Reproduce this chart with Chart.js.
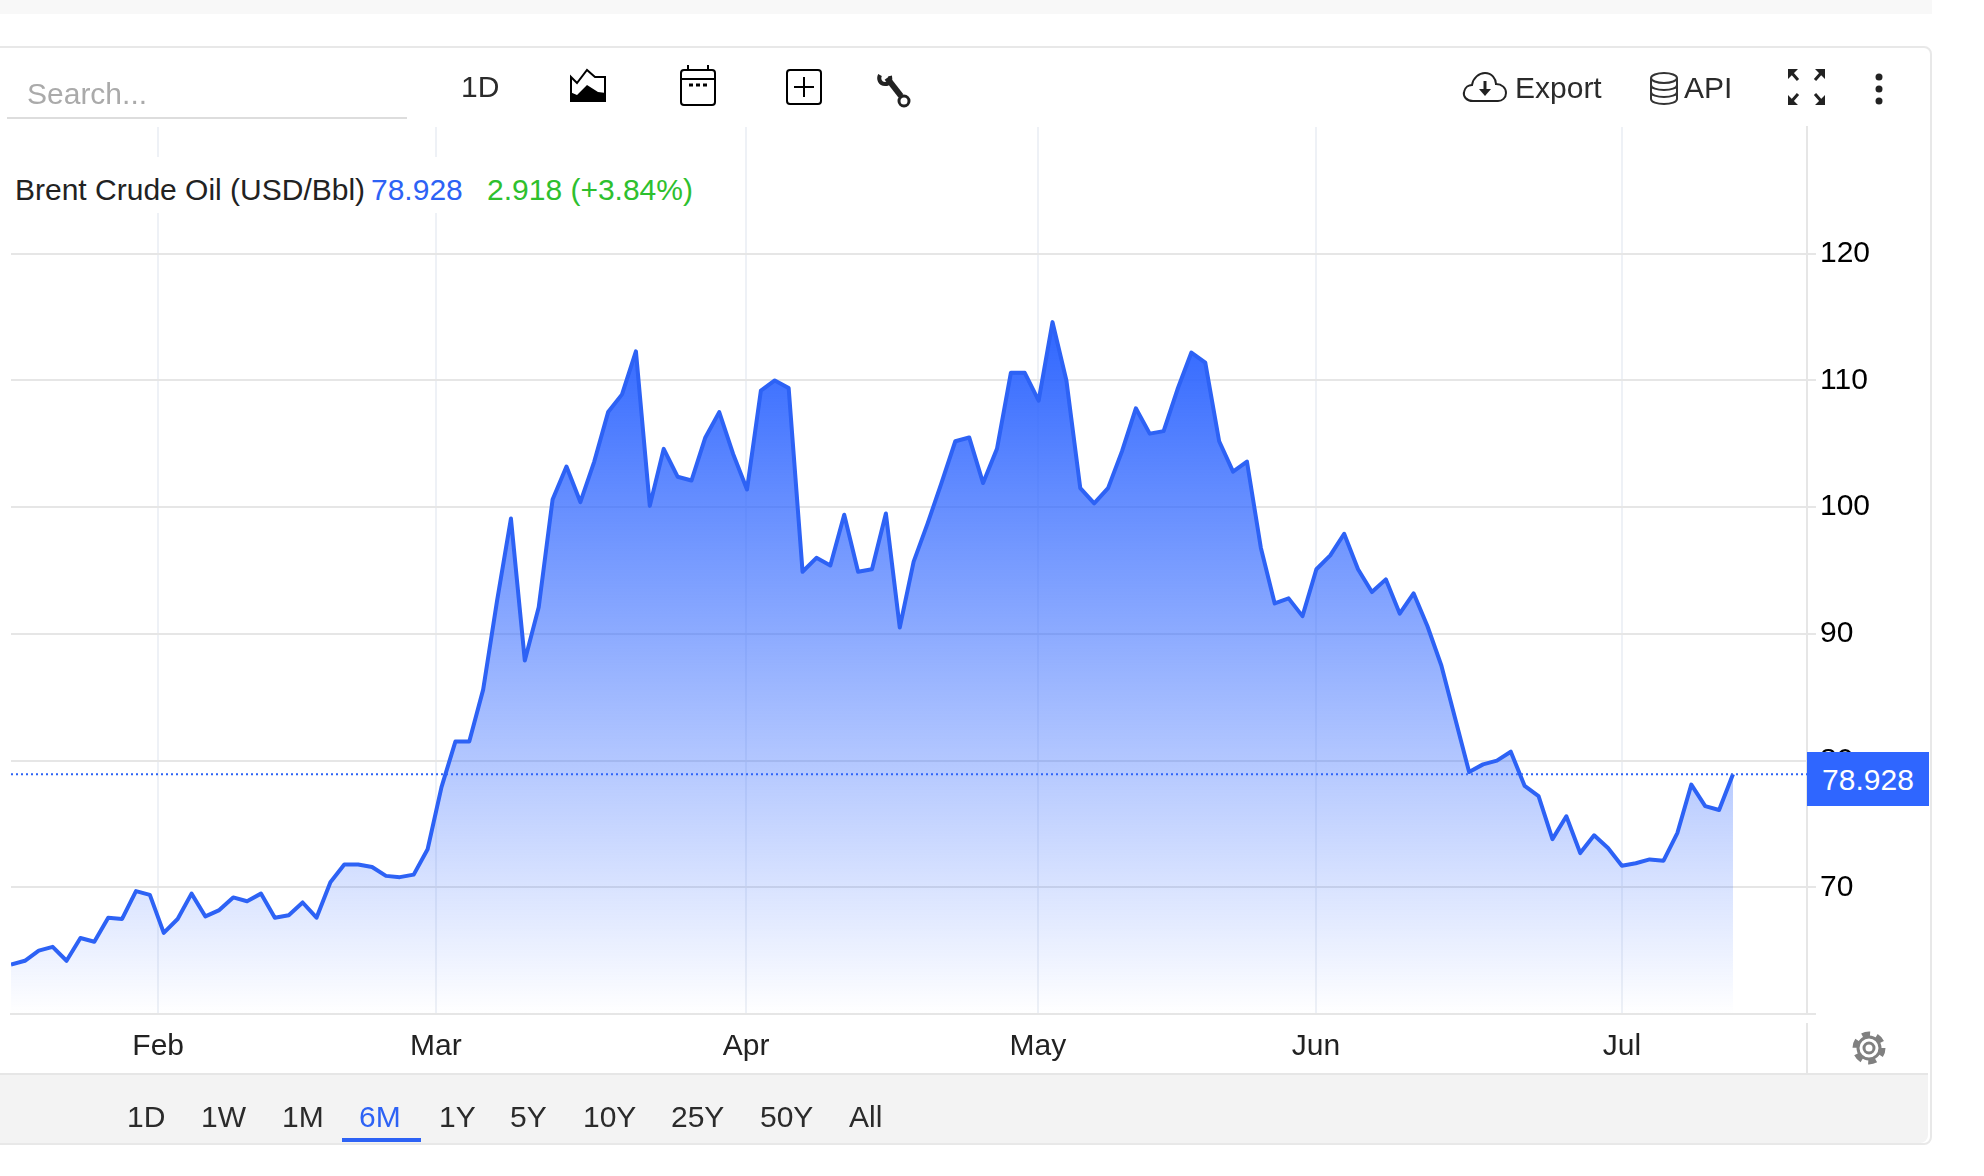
<!DOCTYPE html>
<html>
<head>
<meta charset="utf-8">
<title>Brent Crude Oil</title>
<script src="https://cdn.jsdelivr.net/npm/chart.js@4"></script>
<style>
  html, body { margin: 0; padding: 0; background: #fff; overflow: hidden; }
  body { width: 1984px; height: 1176px; position: relative; font-family: "Liberation Sans", Arial, sans-serif; color: #2b2b2b; }
  #liveChart { position: absolute; left: 0; top: 0; }
  .abs { position: absolute; }
  .txt { position: absolute; font-size: 30px; line-height: 34px; white-space: nowrap; }
  svg { position: absolute; overflow: visible; }
</style>
</head>
<body>

<div class="abs" style="left:0;top:0;width:1932px;height:14px;background:#f8f8f8"></div>
<div class="abs" style="left:-10px;top:46px;width:1938px;height:1095px;border:2px solid #e8e8e8;border-radius:8px"></div>
<div class="abs" style="left:0;top:1073px;width:1928px;height:68px;background:#f3f3f3;border-top:2px solid #e6e6e6;border-radius:0 0 8px 0"></div>

<canvas id="liveChart" width="1984" height="1176"></canvas>

<!-- toolbar -->
<div class="txt" style="left:27px;top:77px;color:#aaa">Search...</div>
<div class="abs" style="left:7px;top:117px;width:400px;height:2px;background:#ddd"></div>
<div class="txt" style="left:461px;top:70px">1D</div>

<svg style="left:570px;top:69px" width="36" height="33" viewBox="0 0 36 33">
  <path d="M1 8L7 14L17 1L25 8H35V32H1Z" fill="none" stroke="#000" stroke-width="2"/>
  <path d="M0 23L7 26L17 16L28 23L36 24V33H0Z" fill="#000"/>
</svg>
<svg style="left:680px;top:65px" width="36" height="41" viewBox="0 0 36 41">
  <rect x="1" y="5" width="34" height="35" rx="3" fill="none" stroke="#000" stroke-width="2"/>
  <path d="M1 14H35M8 0V5M28 0V5" stroke="#000" stroke-width="2"/>
  <path d="M9 20H13M16 20H20M23 20H27" stroke="#000" stroke-width="3"/>
</svg>
<svg style="left:786px;top:69px" width="36" height="36" viewBox="0 0 36 36">
  <rect x="1" y="1" width="34" height="34" rx="3" fill="none" stroke="#000" stroke-width="2"/>
  <path d="M18 8V28M8 18H28" stroke="#000" stroke-width="2"/>
</svg>
<svg style="left:870px;top:65px" width="50" height="50" viewBox="0 0 50 50">
  <path d="M17 13L31 31" stroke="#222" stroke-width="6"/>
  <path d="M10 10C8 14 10 19 15 19C20 19 21 15 20 11" fill="none" stroke="#222" stroke-width="4"/>
  <circle cx="34" cy="36" r="5" fill="#fff" stroke="#222" stroke-width="3"/>
</svg>

<svg style="left:1463px;top:72px" width="44" height="30" viewBox="0 0 44 30">
  <path d="M10 29C3 29 0 24 1 20C2 15 6 13 9 13C10 6 16 1 22 1C29 1 33 7 33 12C39 12 43 16 43 21C43 26 39 29 35 29Z" fill="none" stroke="#222" stroke-width="2"/>
  <path d="M22 9V19" stroke="#222" stroke-width="3"/>
  <path d="M16 17H28L22 24Z" fill="#222"/>
</svg>
<div class="txt" style="left:1515px;top:71px">Export</div>

<svg style="left:1650px;top:72px" width="28" height="33" viewBox="0 0 28 33">
  <ellipse cx="14" cy="6" rx="13" ry="5" fill="none" stroke="#333" stroke-width="2"/>
  <path d="M1 6V27C1 30 7 32 14 32C21 32 27 30 27 27V6M1 13C1 16 7 18 14 18C21 18 27 16 27 13M1 20C1 23 7 25 14 25C21 25 27 23 27 20" fill="none" stroke="#333" stroke-width="2"/>
</svg>
<div class="txt" style="left:1684px;top:71px">API</div>

<svg style="left:1780px;top:60px" width="60" height="50" viewBox="0 0 60 50">
  <path d="M8 9H18L8 19ZM45 9H35L45 19ZM8 45H18L8 35ZM45 45H35L45 35Z" fill="#222"/>
  <path d="M11 12L18 20M42 12L35 20M11 42L18 34M42 42L35 34" stroke="#222" stroke-width="3"/>
</svg>
<svg style="left:1875px;top:73px" width="8" height="32" viewBox="0 0 8 32">
  <circle cx="4" cy="4" r="3.5" fill="#222"/>
  <circle cx="4" cy="16" r="3.5" fill="#222"/>
  <circle cx="4" cy="28" r="3.5" fill="#222"/>
</svg>

<!-- title row, white patch hides the gridlines behind it -->
<div class="abs" style="left:10px;top:157px;width:690px;height:56px;background:#fff"></div>
<div class="txt" style="left:15px;top:173px;color:#222">Brent Crude Oil (USD/Bbl)</div>
<div class="txt" style="left:371px;top:173px;color:#2d62f5">78.928</div>
<div class="txt" style="left:487px;top:173px;color:#2ec02e">2.918 (+3.84%)</div>

<!-- last price tag -->
<div class="abs" style="left:1807px;top:752px;width:122px;height:54px;background:#2f66ff;color:#fff;font-size:30px;line-height:56px;text-align:center">78.928</div>

<!-- axis line below the plot, gear -->
<div class="abs" style="left:1806px;top:1023px;width:2px;height:50px;background:#e6e6e6"></div>
<svg style="left:1853px;top:1032px" width="32" height="32" viewBox="0 0 32 32">
  <circle cx="16" cy="16" r="11" fill="none" stroke="#808080" stroke-width="3"/>
  <circle cx="16" cy="16" r="5" fill="none" stroke="#808080" stroke-width="3"/>
  <circle cx="16" cy="16" r="14" fill="none" stroke="#808080" stroke-width="5" stroke-dasharray="8 6.66"/>
</svg>

<!-- range tabs -->
<div class="txt" style="left:127px;top:1100px">1D</div>
<div class="txt" style="left:201px;top:1100px">1W</div>
<div class="txt" style="left:282px;top:1100px">1M</div>
<div class="txt" style="left:359px;top:1100px;color:#2d62f5">6M</div>
<div class="txt" style="left:439px;top:1100px">1Y</div>
<div class="txt" style="left:510px;top:1100px">5Y</div>
<div class="txt" style="left:583px;top:1100px">10Y</div>
<div class="txt" style="left:671px;top:1100px">25Y</div>
<div class="txt" style="left:760px;top:1100px">50Y</div>
<div class="txt" style="left:849px;top:1100px">All</div>
<div class="abs" style="left:342px;top:1138px;width:79px;height:4px;background:#2d62f5"></div>

<script>
// Brent daily closes
const prices = [
  63.9, 64.2, 65.0, 65.3, 64.2, 66.0, 65.7, 67.6, 67.5, 69.7,
  69.4, 66.4, 67.5, 69.5, 67.7, 68.2, 69.2, 68.9, 69.5, 67.6,
  67.8, 68.8, 67.6, 70.4, 71.8, 71.8, 71.6, 70.9, 70.8, 71.0,
  73.0, 77.9, 81.5, 81.5, 85.6, 92.6, 99.1, 87.9, 92.1, 100.6,
  103.2, 100.4, 103.6, 107.5, 108.9, 112.3, 100.1, 104.6, 102.4, 102.1,
  105.5, 107.5, 104.2, 101.4, 109.2, 110.0, 109.4, 94.9, 96.0, 95.4,
  99.4, 94.9, 95.1, 99.5, 90.5, 95.7, 98.7, 101.9, 105.2, 105.5,
  101.9, 104.6, 110.6, 110.6, 108.4, 114.6, 110.0, 101.5, 100.3, 101.5,
  104.4, 107.8, 105.8, 106.0, 109.3, 112.2, 111.4, 105.2, 102.8, 103.6,
  96.8, 92.4, 92.8, 91.4, 95.1, 96.2, 97.9, 95.1, 93.3, 94.3,
  91.6, 93.2, 90.6, 87.5, 83.3, 79.1, 79.7, 80.0, 80.7, 78.0,
  77.2, 73.8, 75.6, 72.7, 74.1, 73.1, 71.7, 71.9, 72.2, 72.1,
  74.3, 78.1, 76.4, 76.1, 78.928
]
const lastPrice = 78.928

// month ticks sit between trading days (weekends collapsed)
const monthLabels = [`Feb`, `Mar`, `Apr`, `May`, `Jun`, `Jul`]
const monthTicks = [10.6, 30.6, 52.93, 73.95, 93.97, 116]
const priceTicks = [60, 70, 80, 90, 100, 110, 120]

const lastSlot = 129.33
const blue = `#2d62f5`

// area fill fades from the highest point down to the baseline
const areaFill = ctx => {
  const { chart } = ctx
  if (!chart.chartArea) return `transparent`
  const top = chart.scales.y.getPixelForValue(Math.max(...prices))
  const g = chart.ctx.createLinearGradient(0, top, 0, chart.chartArea.bottom)
  g.addColorStop(0, `rgba(47,102,255,1)`)
  g.addColorStop(1, `rgba(47,102,255,0)`)
  return g
}

new Chart(document.querySelector(`#liveChart`).getContext(`2d`), {
  type: `line`,
  data: {
    datasets: [{
      data: prices.map((y, x) => ({ x, y })),
      borderColor: blue,
      borderWidth: 4,
      backgroundColor: areaFill,
      fill: `start`,
      tension: 0,
      pointRadius: 0,
      borderJoinStyle: `round`
    }, {
      data: [{ x: 0, y: lastPrice }, { x: lastSlot, y: lastPrice }],
      borderColor: blue,
      borderWidth: 2,
      borderDash: [2, 3],
      pointRadius: 0,
      fill: false
    }]
  },
  options: {
    responsive: false,
    animation: false,
    devicePixelRatio: 1,
    layout: { padding: { left: 11, top: 127, right: 0, bottom: 0 } },
    plugins: { legend: { display: false }, tooltip: { enabled: false } },
    scales: {
      x: {
        type: `linear`,
        min: 0,
        max: lastSlot,
        afterBuildTicks: s => { s.ticks = monthTicks.map(value => ({ value })) },
        afterFit: s => { s.height = 162 },
        grid: { color: `#eef1f6`, lineWidth: 2, tickLength: 0, drawTicks: false },
        border: { color: `#e6e6e6`, width: 2 },
        ticks: {
          autoSkip: false,
          maxRotation: 0,
          padding: 15,
          color: `#222`,
          font: { family: `Liberation Sans`, size: 30 },
          callback: v => monthLabels[monthTicks.indexOf(v)]
        }
      },
      y: {
        position: `right`,
        min: 60,
        max: 130,
        afterBuildTicks: s => { s.ticks = priceTicks.map(value => ({ value })) },
        afterFit: s => { s.width = 177 },
        grid: { color: `#e6e6e6`, lineWidth: 2, tickLength: 9 },
        border: { color: `#e6e6e6`, width: 2 },
        ticks: {
          autoSkip: false,
          padding: 4,
          color: `#000`,
          font: { family: `Liberation Sans`, size: 30 },
          callback: v => v === 60 ? `` : v
        }
      }
    }
  }
})
</script>
</body>
</html>
